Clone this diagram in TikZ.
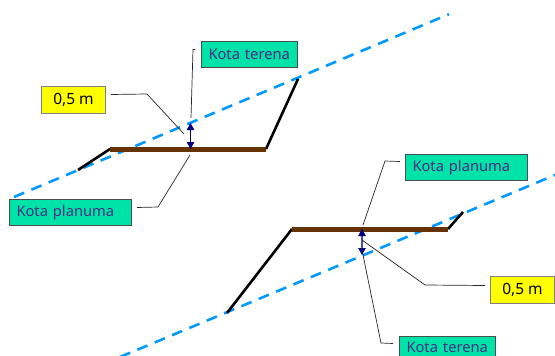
\documentclass[tikz,border=0pt]{standalone}
\usepackage{xcolor}
\usepackage{fontspec}
\setmainfont{Noto Sans}
\usetikzlibrary{arrows.meta, calc}
\definecolor{kotagreen}{RGB}{0,227,168}
\definecolor{kotayellow}{RGB}{255,255,0}
\definecolor{kotablue}{RGB}{0,153,255}
\definecolor{kotabrown}{RGB}{102,51,0}
\definecolor{kotatext}{RGB}{75,45,130}
\definecolor{kotanavy}{RGB}{0,0,128}
\tikzset{
    kotabox/.style={rectangle,draw=black!70,fill=kotagreen,line width=1pt,minimum height=26pt,inner xsep=7pt,inner ysep=0pt,text=kotatext,font=\fontsize{14.7}{16}\selectfont,anchor=north west,align=left},
    tebalbox/.style={rectangle,draw=black!50,fill=kotayellow,line width=1pt,minimum width=64pt,minimum height=27pt,inner sep=0pt,font=\fontsize{15.5}{17}\selectfont,anchor=north west},
    tanah/.style={dash pattern=on 11pt off 7.8pt,line width=2.6pt,kotablue},
    lereng/.style={line width=2.6pt,black},
    planum/.style={line width=5pt,kotabrown},
    garis/.style={line width=0.7pt,black!85},
    tebal/.style={{Triangle[length=7pt,width=7.5pt,color=kotanavy]}-{Triangle[length=7pt,width=7.5pt,color=kotanavy]},line width=0.9pt,kotanavy}
}
\begin{document}
\begin{tikzpicture}[x=1pt,y=-1pt]
    \path[use as bounding box,clip] (0,0) rectangle (555,356);

    % Atas
    \draw[tanah] (14,197) -- (449,14.2);
    \coordinate (planA1) at (110,149);
    \coordinate (planA2) at (266,149);
    \coordinate (lerengA1) at (78,170);
    \coordinate (lerengA2) at (298,79);
    \draw[lereng] (lerengA1) -- (planA1);
    \draw[lereng] (planA2) -- (lerengA2);
    \draw[planum] (planA1) -- (planA2);
    \coordinate (tebalA1) at (190.5,123);
    \coordinate (tebalA2) at (190.5,149);
    \draw[tebal] (tebalA1) -- (tebalA2);

    \node[kotabox,text width=82pt] (terenaA) at (201,41) {Kota terena};
    \node[tebalbox] (nilaiA) at (41,86) {0,5 m};
    \node[kotabox,text width=108pt] (planumaA) at (9,199) {Kota planuma};

    \coordinate (ujungA1) at (191,118);
    \coordinate (ujungA2) at (184,134);
    \coordinate (ujungA3) at (190,155);
    \draw[garis] ([xshift=-6pt,yshift=5pt]terenaA.west) -- ++(-2,0) -- (ujungA1);
    \draw[garis] ([xshift=5pt,yshift=5.5pt]nilaiA.east) -- (147,94) -- (ujungA2);
    \draw[garis] ([xshift=5pt,yshift=5pt]planumaA.east) -- (158,207) -- (ujungA3);

    % Bawah
    \draw[tanah] (120,357) -- (555,175);
    \coordinate (planB1) at (292,229);
    \coordinate (planB2) at (448,229);
    \coordinate (lerengB1) at (227,313);
    \coordinate (lerengB2) at (463,212);
    \draw[lereng] (lerengB1) -- (planB1);
    \draw[lereng] (planB2) -- (lerengB2);
    \draw[planum] (planB1) -- (planB2);
    \coordinate (tebalB1) at (362,229);
    \coordinate (tebalB2) at (362,255);
    \draw[tebal,kotanavy!70,line width=1.2pt] (tebalB1) -- (tebalB2);

    \node[kotabox,text width=108pt] (planumaB) at (405,154) {Kota planuma};
    \node[tebalbox] (nilaiB) at (490,276) {0,5 m};
    \node[kotabox,text width=82pt,minimum height=0pt,text height=11pt,text depth=0pt,inner ysep=5pt] (terenaB) at (399,336) {Kota terena};

    \coordinate (ujungB1) at (363,225);
    \coordinate (ujungB2) at (362,240);
    \coordinate (ujungB3) at (362,250);
    \draw[garis] ([xshift=-5pt,yshift=6pt]planumaB.west) -- (385,161) -- (ujungB1);
    \draw[garis] ([xshift=-5pt,yshift=4.5pt]nilaiB.west) -- (425,285) -- (ujungB2);
    \draw[garis] ([xshift=-6pt,yshift=3.5pt]terenaB.west) -- (381,343) -- (ujungB3);
\end{tikzpicture}
\end{document}
